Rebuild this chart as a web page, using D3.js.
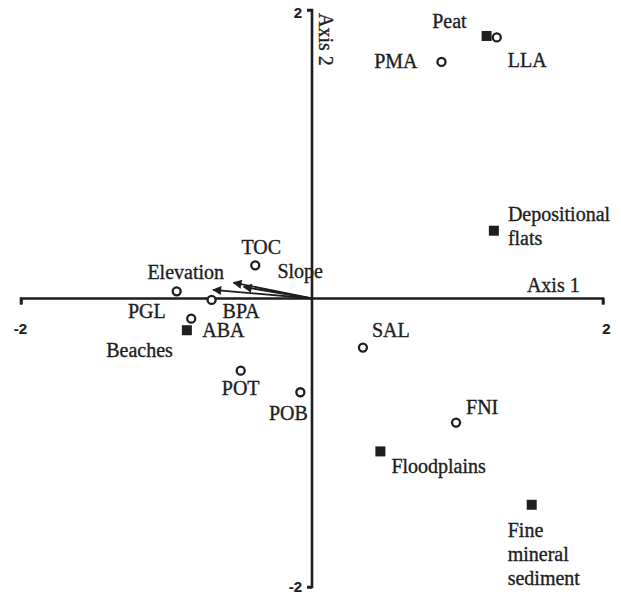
<!DOCTYPE html>
<html>
<head>
<meta charset="utf-8">
<script src="https://cdn.jsdelivr.net/npm/d3@7"></script>
<style>
  html, body { margin: 0; padding: 0; background: #fff; }
  svg { display: block; }
  text { font-family: "Liberation Serif", "Times New Roman", serif; fill: #1e1e1e; stroke: #1e1e1e; stroke-width: 0.35px; }
</style>
</head>
<body>
<script>
// ---- data ----
const siteNames = ["LLA", "PMA", "TOC", "PGL", "BPA", "ABA", "POT", "POB", "SAL", "FNI"];
const siteX     = [1.27, 0.89, -0.39, -0.93, -0.69, -0.83, -0.49, -0.08, 0.35, 0.99];
const siteY     = [1.81, 1.64, 0.23, 0.05, -0.01, -0.14, -0.50, -0.65, -0.34, -0.86];

const habitatNames = [["Peat"], ["Depositional", "flats"], ["Beaches"], ["Floodplains"], ["Fine", "mineral", "sediment"]];
const habitatX     = [1.20, 1.25, -0.86, 0.47, 1.51];
const habitatY     = [1.82, 0.47, -0.22, -1.06, -1.43];

const vectorNames = ["Elevation", "Slope", ""];
const vectorX     = [-0.68, -0.54, -0.47];
const vectorY     = [0.06, 0.11, 0.08];

const axisTicks = [-2, 2];
const axisTitles = ["Axis 1", "Axis 2"];

// ---- layout (label placement, pixels) ----
const siteLabelPos = {
  LLA: [11, 30, "start"], PMA: [-24, 6, "end"], TOC: [6, -11, "middle"],
  PGL: [-11, 27, "end"], BPA: [11, 18, "start"], ABA: [11, 18, "start"],
  POT: [0, 24, "middle"], POB: [-12, 28, "middle"], SAL: [9, -11, "start"],
  FNI: [10, -9, "start"]
};
const habitatLabelPos = [[-20, -8, "end"], [14, -10, "start"], [-14, 27, "end"], [11, 22, "start"], [-24, 32, "start"]];
const vectorLabelPos = [[11, -11, "end"], [44, -5, "start"], [0, 0, "start"]];

const W = 621, H = 598;
const svg = d3.select("body").append("svg").attr("width", W).attr("height", H);

const x = d3.scaleLinear().domain([-2, 2]).range([21, 603]);
const y = d3.scaleLinear().domain([-2, 2]).range([587, 10]);
const ink = "#1e1e1e";
const fmt = d => String(d);  // plain hyphen-minus as in the reference

// axes through the origin
const xAxis = d3.axisBottom(x).tickValues(axisTicks).tickSize(6).tickFormat(fmt);
const gx = svg.append("g").attr("transform", `translate(0,${y(0)})`).call(xAxis);
const yAxis = d3.axisLeft(y).tickValues(axisTicks).tickSize(5).tickFormat(fmt);
const gy = svg.append("g").attr("transform", `translate(${x(0)},0)`).call(yAxis);

[gx, gy].forEach(g => {
  g.select(".domain").attr("stroke", ink).attr("stroke-width", 2.6);
  g.selectAll(".tick line").attr("stroke", ink).attr("stroke-width", 2.4);
  g.selectAll(".tick text").style("font-family", "'Liberation Sans', Arial, sans-serif")
    .style("font-weight", "bold").style("font-size", "15px").attr("fill", ink)
    .style("stroke-width", "0.2px");
});
gx.select(".domain").attr("d", `M${x(-2)},6V0H${x(2)}V6`);
gx.selectAll(".tick text").attr("dy", "1.75em").attr("dx", (d) => d < 0 ? "-1" : "3");
gy.select(".domain").attr("d", `M-5,${y(2)}H0V${y(-2)}H-5`);
gy.selectAll(".tick text").attr("dy", (d) => d > 0 ? "0.5em" : "0.3em").attr("x", -10);

// axis titles
svg.append("text").attr("x", x(1.84)).attr("y", y(0) - 7).attr("text-anchor", "end")
  .style("font-size", "20px").text(axisTitles[0]);
svg.append("text").attr("transform", `translate(${x(0) + 7},${y(2) + 3}) rotate(90)`)
  .style("font-size", "20px").text(axisTitles[1]);

// arrowhead
svg.append("defs").append("marker").attr("id", "arr")
  .attr("viewBox", "0 0 10 10").attr("refX", 9).attr("refY", 5)
  .attr("markerWidth", 8).attr("markerHeight", 5).attr("orient", "auto")
  .attr("markerUnits", "strokeWidth")
  .append("path").attr("d", "M0,0L10,5L0,10z").attr("fill", ink);

const vecs = vectorX.map((vx, i) => ({ name: vectorNames[i], x: vectorX[i], y: vectorY[i], pos: vectorLabelPos[i] }));
svg.append("g").selectAll("line").data(vecs).join("line")
  .attr("x1", x(0)).attr("y1", y(0)).attr("x2", d => x(d.x)).attr("y2", d => y(d.y))
  .attr("stroke", ink).attr("stroke-width", 1.8).attr("marker-end", "url(#arr)");
svg.append("g").selectAll("text").data(vecs.filter(d => d.name)).join("text")
  .attr("x", d => x(d.x) + d.pos[0]).attr("y", d => y(d.y) + d.pos[1])
  .attr("text-anchor", d => d.pos[2]).style("font-size", "20px").text(d => d.name);

// habitat squares
const habs = habitatX.map((hx, i) => ({ lines: habitatNames[i], x: habitatX[i], y: habitatY[i], pos: habitatLabelPos[i] }));
svg.append("g").selectAll("rect").data(habs).join("rect")
  .attr("x", d => x(d.x) - 5).attr("y", d => y(d.y) - 5).attr("width", 10).attr("height", 10)
  .attr("fill", ink);
const ht = svg.append("g").selectAll("text").data(habs).join("text")
  .attr("x", d => x(d.x) + d.pos[0]).attr("y", d => y(d.y) + d.pos[1])
  .attr("text-anchor", d => d.pos[2]).style("font-size", "20px");
ht.selectAll("tspan").data(d => d.lines.map(l => ({ l, x: x(d.x) + d.pos[0] }))).join("tspan")
  .attr("x", t => t.x).attr("dy", (t, i) => i === 0 ? 0 : 24).text(t => t.l);

// site circles
const sites = siteX.map((sx, i) => ({ name: siteNames[i], x: siteX[i], y: siteY[i] }));
svg.append("g").selectAll("circle").data(sites).join("circle")
  .attr("cx", d => x(d.x)).attr("cy", d => y(d.y)).attr("r", 4)
  .attr("fill", "#fff").attr("stroke", ink).attr("stroke-width", 2.3);
svg.append("g").selectAll("text").data(sites).join("text")
  .attr("x", d => x(d.x) + siteLabelPos[d.name][0]).attr("y", d => y(d.y) + siteLabelPos[d.name][1])
  .attr("text-anchor", d => siteLabelPos[d.name][2]).style("font-size", "20px").text(d => d.name);
</script>
</body>
</html>
